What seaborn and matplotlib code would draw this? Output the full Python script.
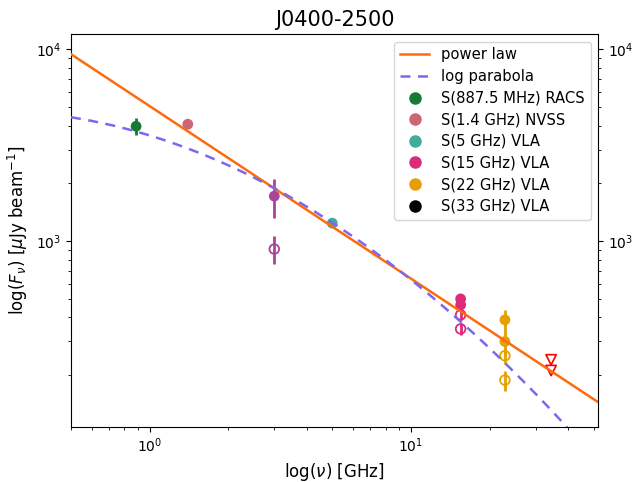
import numpy as np
import pandas as pd
import matplotlib
matplotlib.use("Agg")
import matplotlib.pyplot as plt
import seaborn as sns
from matplotlib.lines import Line2D

# ---- data ----
title = "J0400-2500"
labels = ["S(887.5 MHz) RACS", "S(1.4 GHz) NVSS", "S(5 GHz) VLA",
          "S(15 GHz) VLA", "S(22 GHz) VLA", "S(33 GHz) VLA"]
colors = ["#157a36", "#cc6677", "#44aa99", "#dd2a7b", "#e69f00", "black"]

# filled detections
det_nu = [0.8875, 1.4, 3.0, 5.0, 15.5, 15.5, 22.9, 22.9]
det_flux = [3970, 4070, 1715, 1240, 499, 464, 388, 299]
det_err = [390, 60, 390, 40, 30, 25, 50, 45]
det_col = ["#157a36", "#cc6677", "#aa4499", "#44aa99", "#dd2a7b", "#dd2a7b", "#e69f00", "#e69f00"]

# open (hollow) points
open_nu = [3.0, 15.5, 15.5, 22.9, 22.9]
open_flux = [908, 412, 348, 252, 188]
open_err = [150, 25, 25, 25, 22]
open_col = ["#aa4499", "#dd2a7b", "#dd2a7b", "#e69f00", "#e69f00"]

# upper limits
lim_nu = [34.4, 34.4]
lim_flux = [240, 211]

# model parameters
pl_norm = 5060.0
pl_index = -0.90
lp_a, lp_b, lp_c = 3.551, -0.4165, -0.3358

nu_grid = np.logspace(np.log10(0.5), np.log10(52), 300)
pl = pl_norm * nu_grid ** pl_index
lx = np.log10(nu_grid)
lp = 10 ** (lp_a + lp_b * lx + lp_c * lx ** 2)

fig = plt.figure(figsize=(6.36, 4.82), dpi=100)
ax = fig.add_axes([0.1116, 0.114, 0.8286, 0.815])

sns.lineplot(x=nu_grid, y=pl, ax=ax, color="#ff6a0d", lw=1.8, zorder=4)
sns.lineplot(x=nu_grid, y=lp, ax=ax, color="#7b68ee", lw=1.8, ls=(0, (4, 3)), zorder=4)

for n, f, e, c in zip(det_nu, det_flux, det_err, det_col):
    ax.errorbar(n, f, yerr=e, fmt="none", ecolor=c, elinewidth=2, zorder=2)
for n, f, e, c in zip(open_nu, open_flux, open_err, open_col):
    ax.errorbar(n, f, yerr=e, fmt="none", ecolor=c, elinewidth=2, zorder=2)

df_det = pd.DataFrame({"nu": det_nu, "flux": det_flux})
sns.scatterplot(data=df_det, x="nu", y="flux", ax=ax, c=det_col, s=60,
                edgecolor="none", zorder=3, legend=False)
df_open = pd.DataFrame({"nu": open_nu, "flux": open_flux})
sns.scatterplot(data=df_open, x="nu", y="flux", ax=ax, facecolor="none",
                edgecolor=open_col, linewidth=1.3, s=48, zorder=3, legend=False)
df_lim = pd.DataFrame({"nu": lim_nu, "flux": lim_flux})
sns.scatterplot(data=df_lim, x="nu", y="flux", ax=ax, marker="v", facecolor="none",
                edgecolor="red", linewidth=1.2, s=55, zorder=3, legend=False)

ax.set_xscale("log")
ax.set_yscale("log")
ax.set_xlim(0.5, 52)
ax.set_ylim(107, 12000)
ax.tick_params(which="both", direction="out", right=True, labelright=True, labelsize=10)
ax.set_xlabel(r"log($\nu$) [GHz]", fontsize=12)
ax.set_ylabel(r"log($F_{\nu}$) [$\mu$Jy beam$^{-1}$]", fontsize=12)
ax.set_title(title, fontsize=15)

handles = [Line2D([], [], color="#ff6a0d", lw=1.8, label="power law"),
           Line2D([], [], color="#7b68ee", lw=1.8, ls=(0, (4, 3)), label="log parabola")]
for lab, col in zip(labels, colors):
    handles.append(Line2D([], [], marker="o", ls="none", color=col, markersize=8, label=lab))
ax.legend(handles=handles, loc="upper right", fontsize=10.6, labelspacing=0.45)

fig.savefig("out.png", dpi=100)
